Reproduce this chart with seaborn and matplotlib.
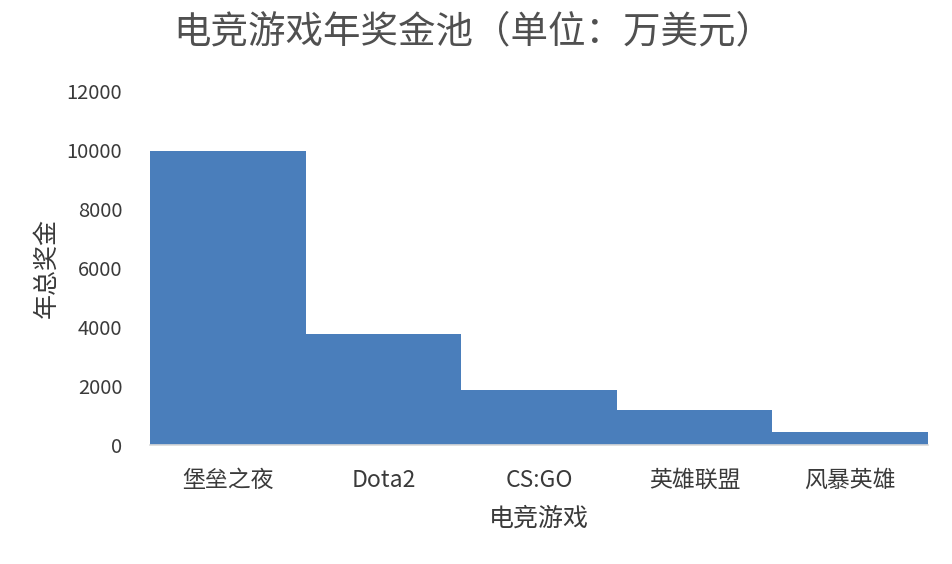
import matplotlib
matplotlib.use("Agg")
import matplotlib.pyplot as plt
import seaborn as sns
import pandas as pd

# data (unit: 万美元)
games = ["堡垒之夜", "Dota2", "CS:GO", "英雄联盟", "风暴英雄"]
prize_pool = [9950, 3760, 1860, 1190, 440]
y_ticks = [0, 2000, 4000, 6000, 8000, 10000, 12000]

df = pd.DataFrame({"game": games, "prize": prize_pool})

sns.set_style("white")
plt.rcParams["font.family"] = ["Noto Sans CJK SC", "DejaVu Sans"]
plt.rcParams["font.weight"] = "light"

fig = plt.figure(figsize=(9.52, 5.64), dpi=100)
ax = fig.add_axes([150 / 952, 1 - 445 / 564, 778 / 952, 354 / 564])

sns.barplot(data=df, x="game", y="prize", color="#4a7ebb", saturation=1,
            width=1.0, linewidth=0, ax=ax)

ax.set_xlim(-0.5, 4.5)
ax.set_ylim(0, 12000)
ax.set_yticks(y_ticks)
ax.set_yticklabels([str(t) for t in y_ticks], fontsize=14.5, color="#3a3a3a")
ax.tick_params(axis="y", length=0, pad=20)
ax.tick_params(axis="x", length=0, pad=17, labelsize=16.5, labelcolor="#3a3a3a")

for side in ["top", "right", "left"]:
    ax.spines[side].set_visible(False)
ax.spines["bottom"].set_color("#d9d9d9")
ax.spines["bottom"].set_linewidth(1.2)

ax.set_xlabel("电竞游戏", fontsize=18, color="#3a3a3a", labelpad=10)
ax.set_ylabel("年总奖金", fontsize=18, color="#3a3a3a", labelpad=5)

fig.text(0.497, 0.943, "电竞游戏年奖金池（单位：万美元）", ha="center", va="center",
         fontsize=27, color="#505050")

fig.savefig("out.png", dpi=100, facecolor="white")
